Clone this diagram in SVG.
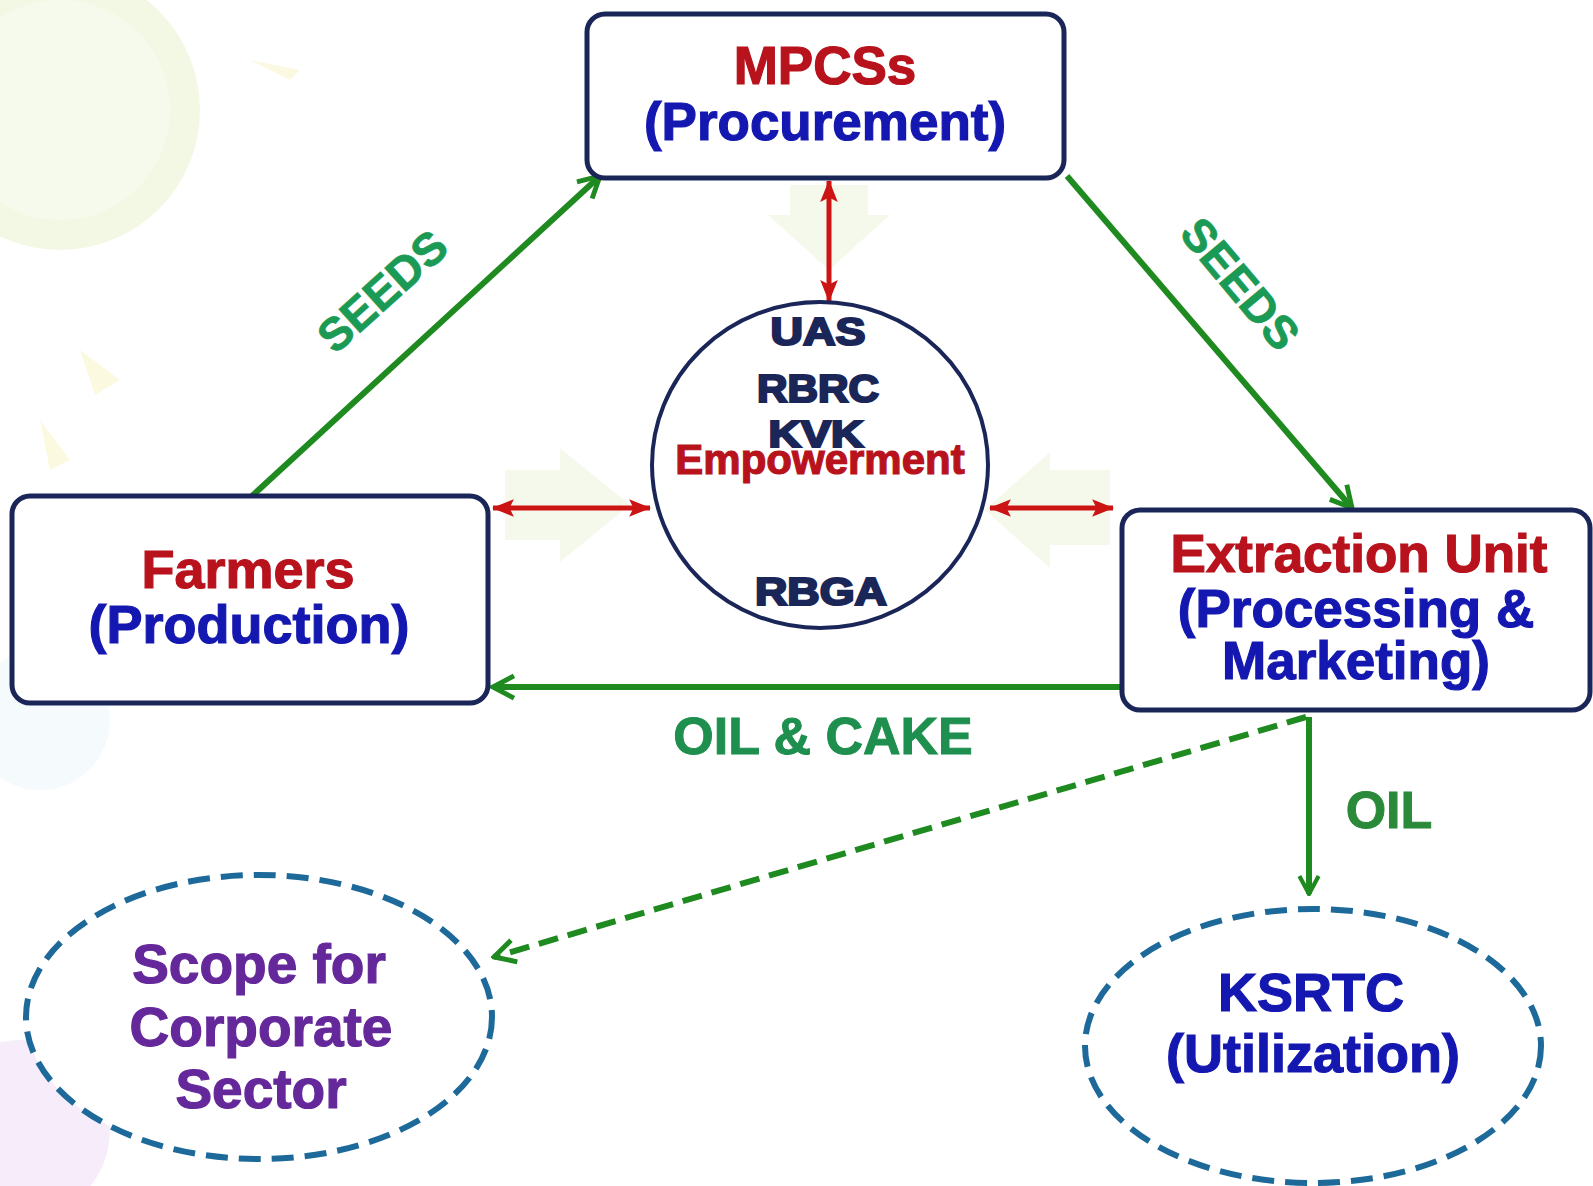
<svg xmlns="http://www.w3.org/2000/svg" width="1593" height="1186" viewBox="0 0 1593 1186">
  <defs>
    <style>
      .t { font-family: "Liberation Sans", Arial, sans-serif; font-weight: bold; text-anchor: middle; }
      .red { fill: #b8121c; stroke: #b8121c; stroke-width: 1.2; }
      .blue { fill: #1418b0; stroke: #1418b0; stroke-width: 1.2; }
      .navy { fill: #1b2658; stroke: #1b2658; stroke-width: 2.2; }
      .purple { fill: #65289a; stroke: #65289a; stroke-width: 1.2; }
      .green { fill: #1a9a55; stroke: #1a9a55; stroke-width: 0.8; }
      .box { fill: #ffffff; stroke: #1b2658; stroke-width: 5; }
      .dash-ell { fill: #ffffff; stroke: #1d6a9a; stroke-width: 6; stroke-dasharray: 22 11; }
      .garr { fill: none; stroke: #1f8a1f; stroke-width: 6; }
      .rarr { fill: none; stroke: #cc1414; stroke-width: 5; }
      .bg { fill: #f1f7e4; }
    </style>
    <marker id="gv" viewBox="0 0 20 20" refX="18" refY="10" markerWidth="28" markerHeight="28" markerUnits="userSpaceOnUse" orient="auto">
      <path d="M3,2 L18,10 L3,18" fill="none" stroke="#1f8a1f" stroke-width="3.5" stroke-linejoin="miter"/>
    </marker>
    <marker id="gvs" viewBox="0 0 20 20" refX="18" refY="10" markerWidth="24" markerHeight="24" markerUnits="userSpaceOnUse" orient="auto">
      <path d="M3,2 L18,10 L3,18" fill="none" stroke="#1f8a1f" stroke-width="3.5"/>
    </marker>
    <marker id="rh" viewBox="0 0 20 20" refX="19" refY="10" markerWidth="22" markerHeight="22" markerUnits="userSpaceOnUse" orient="auto-start-reverse">
      <path d="M0,2 L20,10 L0,18 L4,10 Z" fill="#cc1414"/>
    </marker>
  </defs>

  <rect width="1593" height="1186" fill="#ffffff"/>

  <!-- faint background decoration -->
  <g id="background" opacity="0.75">
    <circle cx="60" cy="110" r="140" fill="#f0f6dd"/>
    <circle cx="60" cy="110" r="110" fill="#f4f9e6"/>
    <path d="M250,60 L300,70 L290,80 Z" fill="#fbf7d8"/>
    <path d="M80,350 L120,380 L95,395 Z" fill="#fbf7d8"/>
    <path d="M40,420 L70,460 L50,470 Z" fill="#fbf7d8"/>
    <circle cx="20" cy="1130" r="90" fill="#f3e6f8"/>
    <circle cx="40" cy="720" r="70" fill="#f2f8fc"/>
    <polygon class="bg" points="790,185 868,185 868,215 890,215 829,270 768,215 790,215"/>
    <polygon class="bg" points="505,470 560,470 560,448 630,505 560,562 560,540 505,540"/>
    <polygon class="bg" points="1110,470 1050,470 1050,452 985,510 1050,568 1050,545 1110,545"/>
  </g>

  <g id="connectors">
    <line id="farmers-mpcs" class="garr" x1="252" y1="496" x2="600" y2="176" marker-end="url(#gv)"/>
    <line id="mpcs-extraction" class="garr" x1="1067" y1="176" x2="1352" y2="508" marker-end="url(#gv)"/>
    <line id="extraction-farmers" class="garr" x1="1120" y1="687" x2="493" y2="687" marker-end="url(#gv)"/>
    <line id="extraction-scope" class="garr" stroke-width="7" x1="1306" y1="717" x2="494" y2="957" stroke-dasharray="20 10" marker-end="url(#gv)"/>
    <line id="extraction-ksrtc" class="garr" stroke-width="4" x1="1309" y1="717" x2="1309" y2="894" marker-end="url(#gvs)"/>
    <line id="mpcs-circle" class="rarr" x1="829" y1="181" x2="829" y2="301" marker-start="url(#rh)" marker-end="url(#rh)"/>
    <line id="farmers-circle" class="rarr" x1="493" y1="508" x2="650" y2="508" marker-start="url(#rh)" marker-end="url(#rh)"/>
    <line id="circle-extraction" class="rarr" x1="990" y1="508" x2="1113" y2="508" marker-start="url(#rh)" marker-end="url(#rh)"/>
    <text class="t green" x="0" y="0" font-size="46" transform="translate(393,303) rotate(-42)">SEEDS</text>
    <text class="t green" x="0" y="0" font-size="46" transform="translate(1228,294) rotate(50)">SEEDS</text>
    <text class="t" x="823" y="754" font-size="52" fill="#1e8f4e" stroke="#1e8f4e" stroke-width="1">OIL &amp; CAKE</text>
    <text class="t" x="1389" y="828" font-size="52" fill="#2a8a3a" stroke="#2a8a3a" stroke-width="1">OIL</text>
  </g>

  <g id="mpcs">
    <rect class="box" x="587" y="14" width="477" height="164" rx="18"/>
    <text class="t red" x="825" y="84" font-size="53">MPCSs</text>
    <text class="t blue" x="825" y="140" font-size="53">(Procurement)</text>
  </g>

  <g id="farmers">
    <rect class="box" x="12" y="496" width="476" height="207" rx="18"/>
    <text class="t red" x="248" y="588" font-size="54">Farmers</text>
    <text class="t blue" x="249" y="643" font-size="54">(Production)</text>
  </g>

  <g id="extraction">
    <rect class="box" x="1122" y="510" width="468" height="200" rx="18"/>
    <text class="t red" x="1359" y="572" font-size="53">Extraction Unit</text>
    <text class="t blue" x="1356" y="627" font-size="53">(Processing &amp;</text>
    <text class="t blue" x="1356" y="679" font-size="53">Marketing)</text>
  </g>

  <g id="institutions">
    <ellipse cx="820" cy="465" rx="168" ry="163" fill="#ffffff" stroke="#1b2658" stroke-width="4"/>
    <text class="t navy" x="818" y="345" font-size="38" textLength="95" lengthAdjust="spacingAndGlyphs">UAS</text>
    <text class="t navy" x="818" y="402" font-size="38" textLength="122" lengthAdjust="spacingAndGlyphs">RBRC</text>
    <text class="t navy" x="816" y="447" font-size="36" textLength="95" lengthAdjust="spacingAndGlyphs">KVK</text>
    <text class="t red" x="820" y="474" font-size="42">Empowerment</text>
    <text class="t navy" x="821" y="605" font-size="38" textLength="132" lengthAdjust="spacingAndGlyphs">RBGA</text>
  </g>

  <g id="scope">
    <ellipse class="dash-ell" cx="259" cy="1017" rx="233" ry="142"/>
    <text class="t purple" x="259" y="983" font-size="55">Scope for</text>
    <text class="t purple" x="261" y="1046" font-size="55">Corporate</text>
    <text class="t purple" x="261" y="1108" font-size="55">Sector</text>
  </g>

  <g id="ksrtc">
    <ellipse class="dash-ell" cx="1313" cy="1046" rx="228" ry="137"/>
    <text class="t blue" x="1311" y="1011" font-size="54">KSRTC</text>
    <text class="t blue" x="1313" y="1072" font-size="54">(Utilization)</text>
  </g>
</svg>
